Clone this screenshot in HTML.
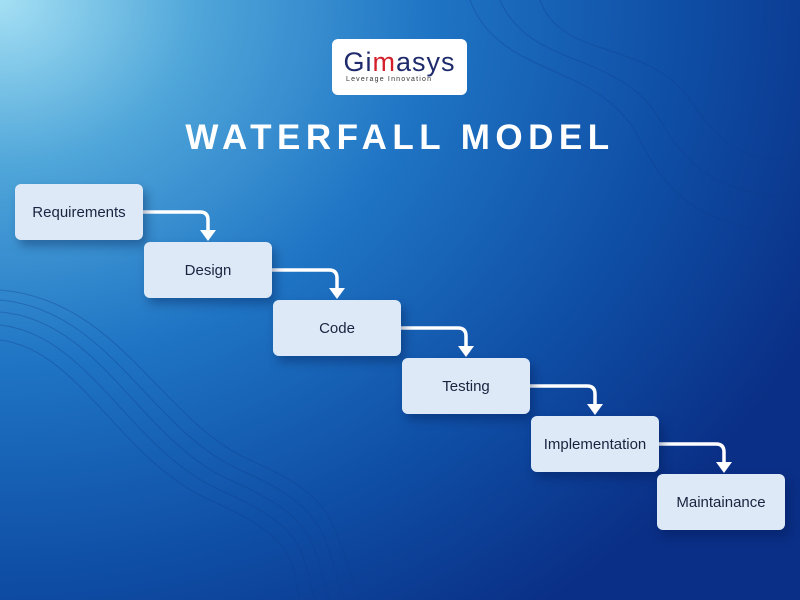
<!DOCTYPE html>
<html><head><style>
body{margin:0;width:800px;height:600px;overflow:hidden;font-family:"Liberation Sans",sans-serif;}
.bg{position:absolute;left:0;top:0;width:800px;height:600px;background:radial-gradient(ellipse 900px 760px at 0px 0px,#a5e0f4 0%,#4fa6d9 22%,#1f74c4 48%,#0f4fa6 75%,#0a2f86 100%);}
.logo{position:absolute;left:332px;top:39px;width:135px;height:56px;background:#fff;border-radius:6px;}
.logo .g{position:absolute;left:0;width:135px;top:8px;text-align:center;font-size:27px;color:#1e2a6b;letter-spacing:1px;}
.logo .s{position:absolute;left:14px;top:37px;font-size:7px;color:#333;letter-spacing:1.2px;}
h1{position:absolute;left:0;width:800px;top:118px;margin:0;text-align:center;color:#fff;font-size:35px;font-weight:bold;letter-spacing:5.5px;}
.box{position:absolute;width:128px;height:56px;background:#dde9f6;border-radius:6px;box-shadow:4px 6px 10px rgba(0,20,70,.35);display:flex;align-items:center;justify-content:center;font-size:15px;color:#1a2440;}
</style></head><body>
<div class="bg"></div>
<svg width="800" height="600" style="position:absolute;left:0;top:0" fill="none" stroke="#0d3b8a" stroke-opacity=".35" stroke-width="1">
<path d="M0 290 C120 300 160 420 250 460 S330 520 360 600"/>
<path d="M0 300 C110 310 150 430 240 470 S320 530 345 600"/>
<path d="M0 312 C100 320 140 440 230 480 S310 540 330 600"/>
<path d="M0 325 C90 335 130 450 220 490 S300 550 315 600"/>
<path d="M0 340 C80 350 120 460 210 500 S290 560 300 600"/>
<path d="M470 0 C500 80 600 60 640 140 S720 220 800 240"/>
<path d="M500 0 C530 70 620 50 660 120 S740 190 800 200"/>
<path d="M540 0 C560 60 650 40 690 100 S760 160 800 160"/>
</svg>
<div class="logo"><div class="g">Gi<span style="color:#d21f2b">m</span>asys</div><div class="s">Leverage Innovation</div></div>
<h1>WATERFALL MODEL</h1>
<svg width="800" height="600" style="position:absolute;left:0;top:0" fill="none" stroke="#fff" stroke-width="3.5">
<g id="a"><path d="M143 212 H200 Q208 212 208 220 V232"/><polygon points="200,230 216,230 208,241" fill="#fff" stroke="none"/></g>
<use href="#a" x="129" y="58"/><use href="#a" x="258" y="116"/><use href="#a" x="387" y="174"/><use href="#a" x="516" y="232"/>
</svg>
<div class="box" style="left:15px;top:184px">Requirements</div>
<div class="box" style="left:144px;top:242px">Design</div>
<div class="box" style="left:273px;top:300px">Code</div>
<div class="box" style="left:402px;top:358px">Testing</div>
<div class="box" style="left:531px;top:416px">Implementation</div>
<div class="box" style="left:657px;top:474px">Maintainance</div>
</body></html>
